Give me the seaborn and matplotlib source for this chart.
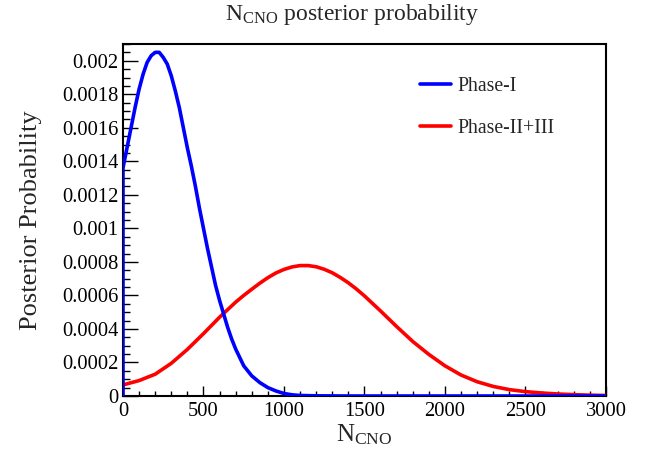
import matplotlib
matplotlib.use("Agg")
import matplotlib.pyplot as plt
import matplotlib.ticker as mticker
import numpy as np
import pandas as pd
import seaborn as sns

# ---- data ----
phase1_x = [0, 0, 25, 50, 75, 100, 125, 150, 175, 200, 225, 250, 275, 300, 325, 350,
            375, 400, 425, 450, 475, 500, 525, 550, 575, 600, 625, 650, 675, 700,
            750, 800, 850, 900, 950, 1000, 1050, 1100, 1200, 1400, 1700, 2000,
            2500, 3000]
phase1_y = [0.0, 0.00136, 0.00148, 0.00160, 0.00172, 0.00183, 0.00192, 0.00199,
            0.00203, 0.00205, 0.00205, 0.00202, 0.00198, 0.00191, 0.00182, 0.00172,
            0.00160, 0.00148, 0.00137, 0.00125, 0.00112, 0.00100, 0.00088, 0.00077,
            0.00066, 0.00057, 0.00049, 0.00041, 0.00034, 0.00028,
            0.00018, 0.00012, 0.00008, 0.00005, 0.00003, 0.000015, 0.000007,
            0.000003, 0.000001, 0.0, 0.0, 0.0, 0.0, 0.0]

phase23_x = [0, 100, 200, 300, 400, 500, 600, 700, 750, 800, 850, 900, 950, 1000,
             1050, 1100, 1150, 1200, 1250, 1300, 1350, 1400, 1450, 1500, 1600, 1700,
             1800, 1900, 2000, 2100, 2200, 2300, 2400, 2500, 2600, 2700, 2800, 2900,
             3000]
phase23_y = [0.000066, 0.000092, 0.000130, 0.000195, 0.000278, 0.000372, 0.000470,
             0.000560, 0.000600, 0.000637, 0.000673, 0.000706, 0.000734, 0.000755,
             0.000770, 0.000778, 0.000778, 0.000771, 0.000756, 0.000735, 0.000707,
             0.000675, 0.000638, 0.000597, 0.000507, 0.000414, 0.000325, 0.000248,
             0.000180, 0.000125, 0.000085, 0.000057, 0.000038, 0.000026, 0.000018,
             0.000012, 0.000008, 0.000005, 0.000003]

series_names = ["Phase-I", "Phase-II+III"]
series_colors = ["#0000ff", "#ff0000"]
x_ticks = [0, 500, 1000, 1500, 2000, 2500, 3000]
y_ticks = [0, 0.0002, 0.0004, 0.0006, 0.0008, 0.001, 0.0012, 0.0014, 0.0016, 0.0018, 0.002]

df = pd.concat([
    pd.DataFrame({"x": phase1_x, "y": phase1_y, "series": series_names[0]}),
    pd.DataFrame({"x": phase23_x, "y": phase23_y, "series": series_names[1]}),
], ignore_index=True)

sns.set_theme(style="ticks")
plt.rcParams["font.family"] = ["Liberation Serif", "DejaVu Serif"]
plt.rcParams["mathtext.fontset"] = "custom"
plt.rcParams["mathtext.rm"] = "Liberation Serif"
plt.rcParams["mathtext.it"] = "Liberation Serif:italic"

fig = plt.figure(figsize=(6.5, 4.61), dpi=100)
ax = fig.add_axes([0.1892, 0.1410, 0.7431, 0.7636])

sns.lineplot(data=df, x="x", y="y", hue="series", hue_order=series_names,
             palette=series_colors, estimator=None, sort=False, units="series",
             linewidth=2.6, ax=ax, legend=True)
lines = ax.get_lines()
if len(lines) >= 2:
    lines[0].set_zorder(4)
    lines[1].set_zorder(3)

ax.set_xlim(0, 3000)
ax.set_ylim(0, 0.0021)
ax.set_xticks(x_ticks)
ax.set_yticks(y_ticks)
ax.xaxis.set_minor_locator(mticker.MultipleLocator(100))
ax.yaxis.set_minor_locator(mticker.MultipleLocator(0.00005))
ax.yaxis.set_major_formatter(mticker.FuncFormatter(lambda v, p: "%g" % round(v, 6)))
ax.xaxis.set_major_formatter(mticker.FuncFormatter(lambda v, p: "%d" % v))

ax.tick_params(axis="both", which="both", direction="in", top=False, right=False,
               colors="black", labelsize=14.8, width=1.0)
ax.tick_params(axis="y", which="major", length=10.5, pad=3)
ax.tick_params(axis="y", which="minor", length=5)
ax.tick_params(axis="x", which="major", length=7.5, pad=4)
ax.tick_params(axis="x", which="minor", length=3.8)

for s in ax.spines.values():
    s.set_visible(True)
    s.set_color("black")
    s.set_linewidth(1.5)

ax.set_xlabel(r"$\mathrm{N_{CNO}}$", fontsize=18, labelpad=1)
ax.set_ylabel("Posterior Probability", fontsize=19, labelpad=15)
fig.text(352 / 650, 1 - 20 / 461, r"$\mathrm{N_{CNO}}$ posterior probability",
         fontsize=17, ha="center", va="baseline")

leg = ax.legend(frameon=False, loc="upper left", bbox_to_anchor=(0.598, 0.93),
                fontsize=14.2, handlelength=1.6, handletextpad=0.3, labelspacing=1.2,
                borderaxespad=0)
for h in leg.get_lines():
    h.set_linewidth(2.6)

fig.savefig("out.png", dpi=100)
